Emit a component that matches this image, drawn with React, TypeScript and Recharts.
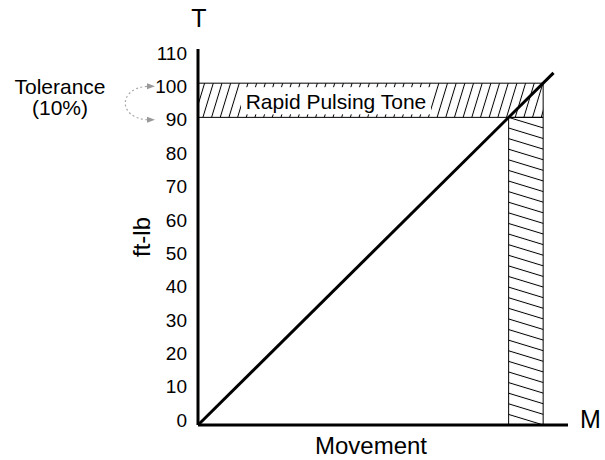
import React from 'react';
import { ComposedChart, Line, XAxis, YAxis, ReferenceArea, Label } from 'recharts';

const movement = [0, 103];
const torque = [0, 103];
const yTicks = [0, 10, 20, 30, 40, 50, 60, 70, 80, 90, 100, 110];
const yDomain = [0, 110];
const xDomain = [0, 107.2];
const toleranceRange = [90, 100];
const pulseRange = [90, 100];
const bandLabel = 'Rapid Pulsing Tone';
const toleranceLines = ['Tolerance', '(10%)'];
const yAxisTitle = 'ft-lb';
const xAxisTitle = 'Movement';
const yAxisSymbol = 'T';
const xAxisSymbol = 'M';

const data = movement.map((m, i) => ({ m, t: torque[i] }));

const FONT = '"Liberation Sans", Arial, sans-serif';

const tickShift = (v: number) => -5 + (9 * v) / yDomain[1];

const YTick = (props: any) => {
  const { x, y, payload } = props;
  return (
    <text x={x} y={y + tickShift(payload.value)} dy="0.355em" textAnchor="end" fontSize={19} fill="#000" fontFamily={FONT}>
      {payload.value}
    </text>
  );
};

const YAxisDecor = (props: any) => {
  const vb = props.viewBox || {};
  const ax = vb.x + vb.width;
  const top = vb.y;
  const h = vb.height;
  const yOf = (v: number) => top + h * (1 - (v - yDomain[0]) / (yDomain[1] - yDomain[0]));
  const yHi = yOf(toleranceRange[1]) + tickShift(toleranceRange[1]);
  const yLo = yOf(toleranceRange[0]) + tickShift(toleranceRange[0]);
  const head = (y: number) => `${ax - 43},${y} ${ax - 51},${y - 3} ${ax - 51},${y + 3}`;
  return (
    <g>
      <text x={ax + 1} y={top - 22} textAnchor="middle" fontSize={25} fill="#000" fontFamily={FONT}>{yAxisSymbol}</text>
      <text x={ax - 57} y={top + h / 2} textAnchor="middle" dominantBaseline="central" fontSize={24} fill="#000" fontFamily={FONT}
        transform={`rotate(-90 ${ax - 57} ${top + h / 2})`}>{yAxisTitle}</text>
      <text x={ax - 138} y={yHi + 8} textAnchor="middle" fontSize={21} fill="#000" fontFamily={FONT}>{toleranceLines[0]}</text>
      <text x={ax - 138} y={yHi + 29} textAnchor="middle" fontSize={21} fill="#000" fontFamily={FONT}>{toleranceLines[1]}</text>
      <path d={`M ${ax - 51} ${yHi} C ${ax - 80} ${yHi + 2}, ${ax - 80} ${yLo - 2}, ${ax - 51} ${yLo}`} fill="none" stroke="#aaa" strokeWidth={1.2} strokeDasharray="2 2.5" />
      <polygon points={head(yHi)} fill="#999" />
      <polygon points={head(yLo)} fill="#999" />
    </g>
  );
};

const XAxisDecor = (props: any) => {
  const vb = props.viewBox || {};
  return (
    <g>
      <text x={vb.x + vb.width / 2 - 12} y={vb.y + 29} textAnchor="middle" fontSize={24} fill="#000" fontFamily={FONT}>{xAxisTitle}</text>
      <text x={vb.x + vb.width + 12} y={vb.y + 3} textAnchor="start" fontSize={25} fill="#000" fontFamily={FONT}>{xAxisSymbol}</text>
    </g>
  );
};

const BandLabel = (props: any) => {
  const vb = props.viewBox || {};
  return (
    <g>
      <rect x={vb.x + 43} y={vb.y + 4} width={190} height={vb.height - 7} fill="#fff" />
      <text x={vb.x + 138} y={vb.y + vb.height / 2 + 1} textAnchor="middle" dominantBaseline="central" fontSize={21} fill="#000" fontFamily={FONT}>{bandLabel}</text>
    </g>
  );
};

export default function App() {
  return (
    <div style={{ position: 'absolute', left: 0, top: 0, width: 605, height: 460, background: '#fff' }}>
      <svg width={0} height={0} style={{ position: 'absolute' }}>
        <defs>
          <pattern id="hatchBand" patternUnits="userSpaceOnUse" width={8.3} height={10} patternTransform="rotate(16.9)">
            <line x1={4.15} y1={0} x2={4.15} y2={10} stroke="#000" strokeWidth={1} />
          </pattern>
          <pattern id="hatchZone" patternUnits="userSpaceOnUse" width={10} height={10.15} patternTransform="rotate(16.9)">
            <line x1={0} y1={5.07} x2={10} y2={5.07} stroke="#000" strokeWidth={1} />
          </pattern>
        </defs>
      </svg>
      <ComposedChart width={605} height={460} data={data} margin={{ top: 49, right: 37, bottom: 5, left: 138 }}>
        <XAxis dataKey="m" type="number" domain={xDomain} allowDataOverflow tick={false} tickLine={false}
          axisLine={{ stroke: '#000', strokeWidth: 3 }} height={30}>
          <Label content={<XAxisDecor />} />
        </XAxis>
        <YAxis type="number" domain={yDomain} ticks={yTicks} allowDataOverflow tick={<YTick />} tickLine={false} tickSize={0} tickMargin={11}
          axisLine={{ stroke: '#000', strokeWidth: 3 }} width={60}>
          <Label content={<YAxisDecor />} />
        </YAxis>
        <ReferenceArea x1={xDomain[0]} x2={pulseRange[1]} y1={toleranceRange[0]} y2={toleranceRange[1]}
          fill="url(#hatchBand)" fillOpacity={1} stroke="#000" strokeWidth={1} label={<BandLabel />} />
        <ReferenceArea x1={pulseRange[0]} x2={pulseRange[1]} y1={yDomain[0]} y2={toleranceRange[0]}
          fill="url(#hatchZone)" fillOpacity={1} stroke="#000" strokeWidth={1} />
        <Line dataKey="t" type="linear" stroke="#000" strokeWidth={3} dot={false} isAnimationActive={false} />
      </ComposedChart>
    </div>
  );
}
